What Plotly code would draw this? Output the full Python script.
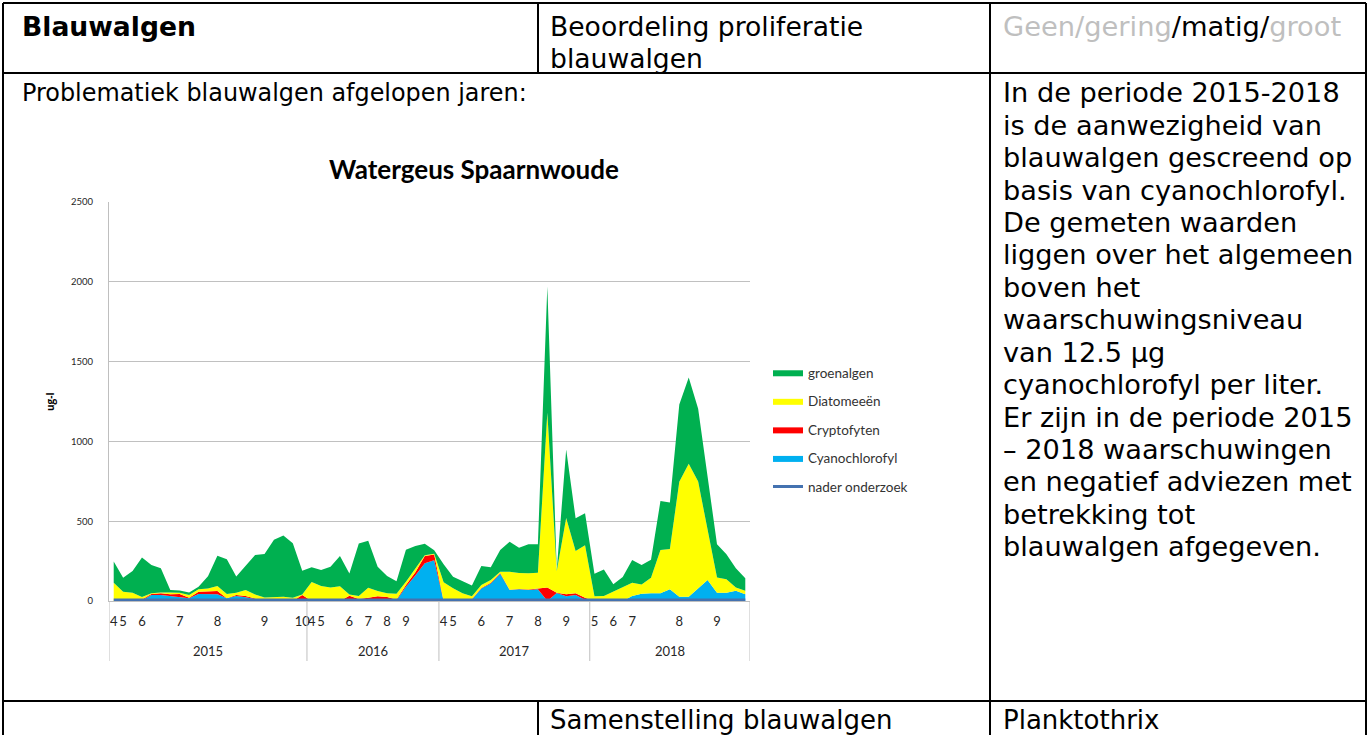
import plotly.graph_objects as go

# ---------------- data ----------------
years = [2015] * 21 + [2016] * 14 + [2017] * 16 + [2018] * 17
months = ['4', '5', '', '6', '', '', '', '7', '', '', '', '8', '', '', '', '', '9', '', '', '', '10',
          '4', '5', '', '', '6', '', '7', '', '8', '', '9', '', '', '',
          '4', '5', '', '', '6', '', '', '7', '', '', '8', '', '', '9', '', '',
          '5', '', '6', '', '7', '', '', '', '', '8', '', '', '', '9', '', '', '']

cyanochlorofyl = [0, 0, 0, 5, 37, 37, 31, 27, 17, 44, 42, 42, 17, 31, 23, 12, 0, 0, 0, 0, 0,
                  0, 0, 0, 0, 12, 5, 10, 12, 10, 5, 90, 160, 236, 255,
                  0, 0, 0, 10, 79, 110, 170, 69, 73, 69, 73, 0, 50, 30, 38, 8,
                  0, 0, 0, 0, 31, 46, 48, 48, 73, 27, 27, 77, 131, 52, 52, 65, 42]
cryptofyten = [0, 0, 0, 5, 7, 11, 11, 17, 4, 14, 20, 20, 0, 6, 8, 5, 0, 0, 0, 0, 37,
               0, 0, 0, 0, 21, 7, 10, 18, 15, 5, 10, 20, 46, 37,
               0, 0, 0, 2, 3, 5, 5, 2, 2, 3, 7, 85, 2, 12, 10, 12,
               0, 0, 0, 0, 0, 0, 0, 0, 0, 0, 0, 0, 0, 0, 0, 0, 0]
diatomeeen = [115, 58, 52, 15, 4, 6, 12, 8, 16, 15, 17, 32, 27, 15, 38, 23, 22, 23, 27, 20, 3,
              119, 94, 85, 92, 7, 20, 63, 32, 23, 35, 20, 20, 5, 4,
              118, 80, 48, 18, 18, 16, 8, 112, 100, 102, 97, 1095, 136, 478, 265, 330,
              29, 31, 58, 83, 84, 58, 98, 272, 253, 720, 833, 671, 319, 95, 84, 20, 22]
groenalgen = [132, 88, 136, 247, 177, 151, 15, 14, 17, 17, 76, 189, 218, 101, 152, 248, 273, 361, 383, 342, 149,
              92, 100, 130, 190, 133, 328, 294, 153, 109, 78, 201, 145, 71, 22,
              112, 72, 74, 67, 120, 81, 137, 188, 158, 182, 179, 790, 7, 430, 205, 200,
              141, 166, 47, 67, 142, 121, 112, 306, 291, 484, 540, 456, 330, 209, 157, 120, 78]
nader_onderzoek = [7, 7, 7, 7, 7, 7, 7, 7, 7, 7, 7, 7, 7, 7, 7, 7, 7, 7, 7, 7, 7,
                   7, 7, 7, 7, 7, 7, 7, 7, 7, 7, 7, 7, 7, 7,
                   7, 7, 7, 7, 7, 7, 7, 7, 7, 7, 7, 7, 7, 7, 7, 7,
                   7, 7, 7, 7, 7, 7, 7, 7, 7, 7, 7, 7, 7, 7, 7, 7, 7]
y_ticks = [0, 500, 1000, 1500, 2000, 2500]

right_text = ["In de periode 2015-2018", "is de aanwezigheid van", "blauwalgen gescreend op",
              "basis van cyanochlorofyl.", "De gemeten waarden", "liggen over het algemeen",
              "boven het", "waarschuwingsniveau", "van 12.5 µg", "cyanochlorofyl per liter.",
              "Er zijn in de periode 2015", "– 2018 waarschuwingen", "en negatief adviezen met",
              "betrekking tot", "blauwalgen afgegeven."]

# ---------------- helpers ----------------
W, H = 1370, 735
def px(x):
    return x / W
def py(y):
    return 1 - y / H

DOC_FONT = "DejaVu Sans"
CH_FONT = "Lato"

idx = list(range(len(years)))
fig = go.Figure()

series = [("Cyanochlorofyl", cyanochlorofyl, "#00B0F0", 4),
          ("Cryptofyten", cryptofyten, "#FF0000", 3),
          ("Diatomeeën", diatomeeen, "#FFFF00", 2),
          ("groenalgen", groenalgen, "#00B050", 1)]
for name, vals, col, rank in series:
    fig.add_trace(go.Scatter(x=idx, y=vals, name=name, stackgroup="algen", mode="lines",
                             line=dict(width=0, color=col), fillcolor=col,
                             legendrank=rank, legendgroup=name))
fig.add_trace(go.Scatter(x=idx, y=nader_onderzoek, name="nader onderzoek", mode="lines",
                         line=dict(color="#4472B0", width=3), legendrank=5, legendgroup="nader"))

tickvals = [i for i, m in enumerate(months) if m]
ticktext = [m for m in months if m]

fig.update_layout(
    width=W, height=H, margin=dict(l=0, r=0, t=0, b=0),
    paper_bgcolor="white", plot_bgcolor="white",
    showlegend=True,
    legend=dict(x=px(768), y=py(357), xanchor="left", yanchor="top",
                font=dict(family=CH_FONT, size=13.5, color="#333333"),
                tracegroupgap=8, bgcolor="rgba(0,0,0,0)"),
    xaxis=dict(domain=[px(109), px(750)], range=[-0.5, len(years) - 0.5],
               tickmode="array", tickvals=tickvals, ticktext=ticktext, tickangle=0,
               tickfont=dict(family=CH_FONT, size=13, color="#262626"),
               showgrid=False, zeroline=False, showline=True, linecolor="#BFBFBF",
               ticks="", ticklabelstandoff=8, automargin=False),
    yaxis=dict(domain=[py(601), py(202)], range=[0, 2500], tickmode="array", tickvals=y_ticks,
               tickfont=dict(family=CH_FONT, size=9.5, color="#262626"),
               showgrid=True, gridcolor="#C0C0C0", gridwidth=1.3, zeroline=False,
               showline=True, linecolor="#BFBFBF", ticks="", ticklabelstandoff=13,
               automargin=False),
)

shapes = []
annotations = []

# category separators and year labels
bounds = [-0.5]
for i in range(1, len(years)):
    if years[i] != years[i - 1]:
        bounds.append(i - 0.5)
bounds.append(len(years) - 0.5)
for b in bounds:
    shapes.append(dict(type="line", xref="x", yref="paper", x0=b, x1=b, y0=py(661), y1=py(601),
                       line=dict(color="#BFBFBF", width=1)))
for k in range(len(bounds) - 1):
    yr = years[int(bounds[k] + 0.5)]
    annotations.append(dict(xref="x", yref="paper", x=(bounds[k] + bounds[k + 1]) / 2, y=py(651),
                            text=str(yr), showarrow=False, xanchor="center", yanchor="middle",
                            font=dict(family=CH_FONT, size=13, color="#262626")))

# chart title and axis title
annotations.append(dict(xref="paper", yref="paper", x=px(474), y=py(169), text="<b>Watergeus Spaarnwoude</b>",
                        showarrow=False, xanchor="center", yanchor="middle",
                        font=dict(family=CH_FONT, size=26, color="black")))
annotations.append(dict(xref="paper", yref="paper", x=px(50), y=py(401), text="<b>ug-l</b>", textangle=-90,
                        showarrow=False, xanchor="center", yanchor="middle",
                        font=dict(family="Open Sans", size=10, color="black")))

# table borders
def hline(y, x0, x1):
    shapes.append(dict(type="line", xref="paper", yref="paper", x0=px(x0), x1=px(x1), y0=py(y), y1=py(y),
                       line=dict(color="black", width=2)))
def vline(x, y0, y1):
    shapes.append(dict(type="line", xref="paper", yref="paper", x0=px(x), x1=px(x), y0=py(y0), y1=py(y1),
                       line=dict(color="black", width=2)))
hline(3, 3, 1366)
hline(73, 3, 1366)
hline(701, 3, 1366)
vline(3, 3, 735)
vline(1366, 3, 735)
vline(990, 3, 735)
vline(538, 3, 73)
vline(538, 701, 735)

def txt(x, y, s, size, bold=False, color="black"):
    annotations.append(dict(xref="paper", yref="paper", x=px(x), y=py(y),
                            text=("<b>%s</b>" % s) if bold else s, showarrow=False,
                            xanchor="left", yanchor="middle",
                            font=dict(family=DOC_FONT, size=size, color=color)))

txt(20, 27, "Blauwalgen", 26.6, bold=True)
txt(548, 27, "Beoordeling proliferatie", 26.6)
txt(548, 58, "blauwalgen", 26.6)
txt(1001, 27, "<span style='color:#BFBFBF'>Geen/gering</span>/matig/<span style='color:#BFBFBF'>groot</span>", 27.3)
txt(20, 93, "Problematiek blauwalgen afgelopen jaren:", 23.9)
for k, line in enumerate(right_text):
    txt(1001, 93 + k * 32.4, line, 27.2)
txt(548, 720, "Samenstelling blauwalgen", 26)
txt(1001, 720, "Planktothrix", 26)

fig.update_layout(shapes=shapes, annotations=annotations)
fig.write_html("out.html", config={"displayModeBar": False},
               post_script="document.body.style.margin='0px';document.body.style.overflow='hidden';")
